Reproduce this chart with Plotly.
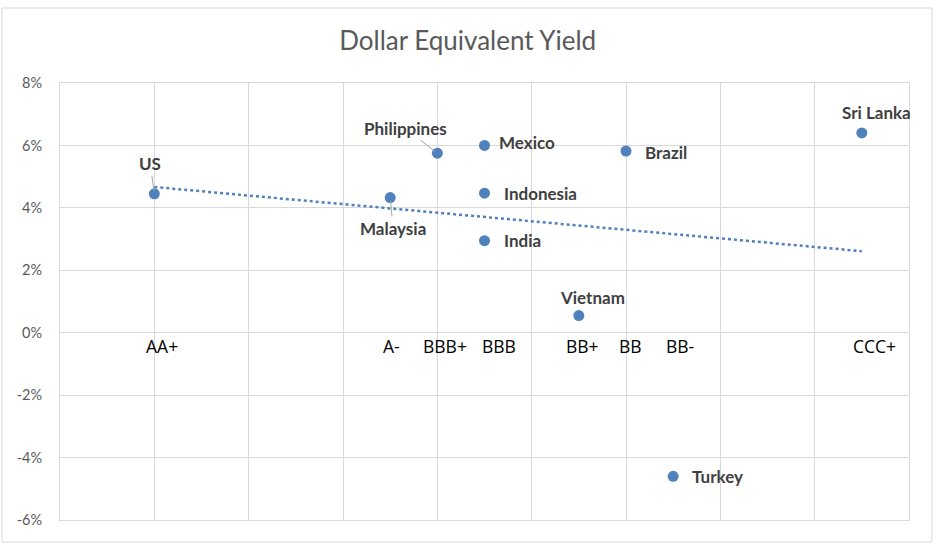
import numpy as np
import plotly.graph_objects as go

# ---- data ----
countries = ["US", "Malaysia", "Philippines", "Mexico", "Indonesia", "India",
             "Vietnam", "Brazil", "Turkey", "Sri Lanka"]
rating_pos = [2, 7, 8, 9, 9, 9, 11, 12, 13, 17]          # rating scale position
yields = [4.45, 4.33, 5.75, 6.0, 4.47, 2.95, 0.55, 5.82, -4.6, 6.4]  # %
rating_labels = ["AA+", "A-", "BBB+", "BBB", "BB+", "BB", "BB-", "CCC+"]
rating_label_pos = [2, 7, 8, 9, 11, 12, 13, 17]
y_ticks = [-6, -4, -2, 0, 2, 4, 6, 8]
y_tick_text = ["-6%", "-4%", "-2%", "0%", "2%", "4%", "6%", "8%"]

# ---- styling ----
PT_COLOR = "#4f81bd"
GRID = "#d9d9d9"
FONT = "Lato"

fig = go.Figure()

# trendline (linear regression over the points)
slope, intercept = np.polyfit(rating_pos, yields, 1)
tx = [min(rating_pos), max(rating_pos)]
ty = [slope * v + intercept for v in tx]
fig.add_trace(go.Scatter(x=tx, y=ty, mode="lines",
                         line=dict(color=PT_COLOR, width=2.5, dash="dot"),
                         hoverinfo="skip", showlegend=False))

fig.add_trace(go.Scatter(x=rating_pos, y=yields, mode="markers",
                         marker=dict(color=PT_COLOR, size=11),
                         showlegend=False, hoverinfo="skip"))

# country labels: (xshift, yshift, xanchor, arrow(ax, ay) or None)
label_style = {
    "US": (0, 0, "center", (-4, -30)),
    "Malaysia": (0, 0, "center", (3, 31)),
    "Philippines": (0, 0, "center", (-32, -25)),
    "Mexico": (12, 3, "left", None),
    "Indonesia": (17, 0, "left", None),
    "India": (17, 0, "left", None),
    "Vietnam": (14, 18, "center", None),
    "Brazil": (17, -1, "left", None),
    "Turkey": (17, 0, "left", None),
    "Sri Lanka": (15, 20, "center", None),
}
for name, xv, yv in zip(countries, rating_pos, yields):
    xs, ys, xa, arr = label_style[name]
    if arr is None:
        fig.add_annotation(x=xv, y=yv, text="<b>%s</b>" % name, showarrow=False,
                           xshift=xs, yshift=ys, xanchor=xa, yanchor="middle",
                           font=dict(family=FONT, size=17, color="#404040"))
    else:
        fig.add_annotation(x=xv, y=yv, text="<b>%s</b>" % name, showarrow=True,
                           ax=arr[0], ay=arr[1], arrowhead=0, arrowwidth=1,
                           arrowcolor="#a6a6a6", standoff=3,
                           font=dict(family=FONT, size=17, color="#404040"))

# rating labels on the zero line
rating_shift = [8, 1, 8, 14, 4, 4, 7, 13]
for lab, xv, xs in zip(rating_labels, rating_label_pos, rating_shift):
    fig.add_annotation(x=xv, y=0, text=lab, showarrow=False, xshift=xs, yshift=-13,
                       xanchor="center", yanchor="middle",
                       font=dict(family="Open Sans", size=17.5, color="#000000"))

# outer chart border
fig.add_shape(type="rect", xref="paper", yref="paper",
              x0=-0.0683, x1=1.027, y0=-0.0503, y1=1.1716,
              line=dict(color=GRID, width=1))

fig.update_layout(
    width=941, height=549,
    margin=dict(l=60, r=32, t=83, b=29),
    paper_bgcolor="white", plot_bgcolor="white",
    title=dict(text="Dollar Equivalent Yield", x=0.497, xanchor="center",
               y=0.925, yanchor="middle",
               font=dict(family=FONT, size=26, color="#595959")),
    xaxis=dict(range=[0, 18], dtick=2, tick0=0, showticklabels=False,
               showgrid=True, gridcolor=GRID, gridwidth=1, zeroline=False,
               showline=True, linecolor=GRID, mirror=True, ticks=""),
    yaxis=dict(range=[-6, 8], tickvals=y_ticks, ticktext=y_tick_text,
               showgrid=True, gridcolor=GRID, gridwidth=1, zeroline=False,
               showline=True, linecolor=GRID, mirror=True, ticks="",
               ticklabelstandoff=14,
               tickfont=dict(family=FONT, size=14.5, color="#595959")),
    hovermode=False,
)

fig.write_html("out.html")
